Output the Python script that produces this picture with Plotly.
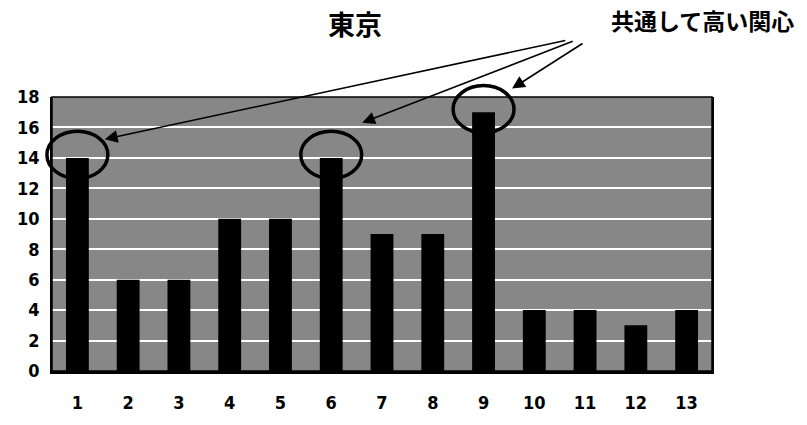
import plotly.graph_objects as go

# Tokyo survey: counts per question number
categories = ["1", "2", "3", "4", "5", "6", "7", "8", "9", "10", "11", "12", "13"]
values = [14, 6, 6, 10, 10, 14, 9, 9, 17, 4, 4, 3, 4]
y_ticks = [0, 2, 4, 6, 8, 10, 12, 14, 16, 18]
highlighted = [0, 5, 8]          # indices of the commonly-high items
title_text = "東京"
callout_text = "共通して高い関心"

Y_MAX = 18
N = len(categories)

tick_font = dict(family="DejaVu Sans Condensed, Liberation Sans Narrow, Arial Narrow, sans-serif",
                 size=18, color="black", weight="bold")
cjk = "Noto Sans CJK JP, Noto Sans CJK SC, sans-serif"

fig = go.Figure(go.Bar(
    x=categories, y=values,
    marker=dict(color="black", line=dict(width=0)),
    width=0.45,
))

# ellipses around highlighted bar tops (paper coordinates derived from data)
shapes = []
for i in highlighted:
    cx = (i + 0.5) / N
    cy = (values[i] + 0.2) / Y_MAX
    shapes.append(dict(type="circle", xref="paper", yref="paper",
                       x0=cx - 0.6 / N, x1=cx + 0.6 / N,
                       y0=cy - 1.55 / Y_MAX, y1=cy + 1.55 / Y_MAX,
                       line=dict(color="black", width=3.5), layer="above"))

# arrows from the callout text into the chart
arrows = [
    dict(x=0.080, y=0.846, ax=462, ay=-99),
    dict(x=0.470, y=0.906, ax=212, ay=-82),
    dict(x=0.697, y=1.031, ax=72, ay=-46),
]
annotations = [
    dict(xref="paper", yref="paper", x=a["x"], y=a["y"], ax=a["ax"], ay=a["ay"],
         text="", showarrow=True, arrowhead=2, arrowsize=1.6, arrowwidth=1.6,
         arrowcolor="black")
    for a in arrows
]
annotations.append(dict(xref="paper", yref="paper", x=0.985, y=1.28,
                        text=callout_text, showarrow=False, xanchor="center",
                        yanchor="middle",
                        font=dict(family=cjk, size=23, color="black", weight="bold")))

fig.update_layout(
    width=807, height=425,
    margin=dict(l=52, r=95, t=97, b=42),
    paper_bgcolor="white",
    plot_bgcolor="#878787",
    showlegend=False,
    bargap=0.55,
    title=dict(text=title_text, x=355 / 807, xanchor="center",
               y=1 - 26 / 425, yanchor="middle",
               font=dict(family=cjk, size=27, color="black", weight="bold")),
    shapes=shapes,
    annotations=annotations,
)
fig.update_xaxes(type="category", showgrid=False, tickfont=tick_font,
                 ticks="", ticklabelstandoff=13,
                 showline=True, linecolor="black", linewidth=3, mirror=False)
fig.update_yaxes(range=[0, Y_MAX], tickvals=y_ticks, tickfont=tick_font,
                 showgrid=True, gridcolor="white", gridwidth=2,
                 zeroline=False, ticks="", ticklabelstandoff=7,
                 showline=True, linecolor="black", linewidth=1.5, mirror=True)
fig.add_shape(type="rect", xref="paper", yref="paper", x0=0, x1=1, y0=0, y1=1,
              line=dict(color="black", width=1.5), layer="above")

fig.write_html("out.html")
